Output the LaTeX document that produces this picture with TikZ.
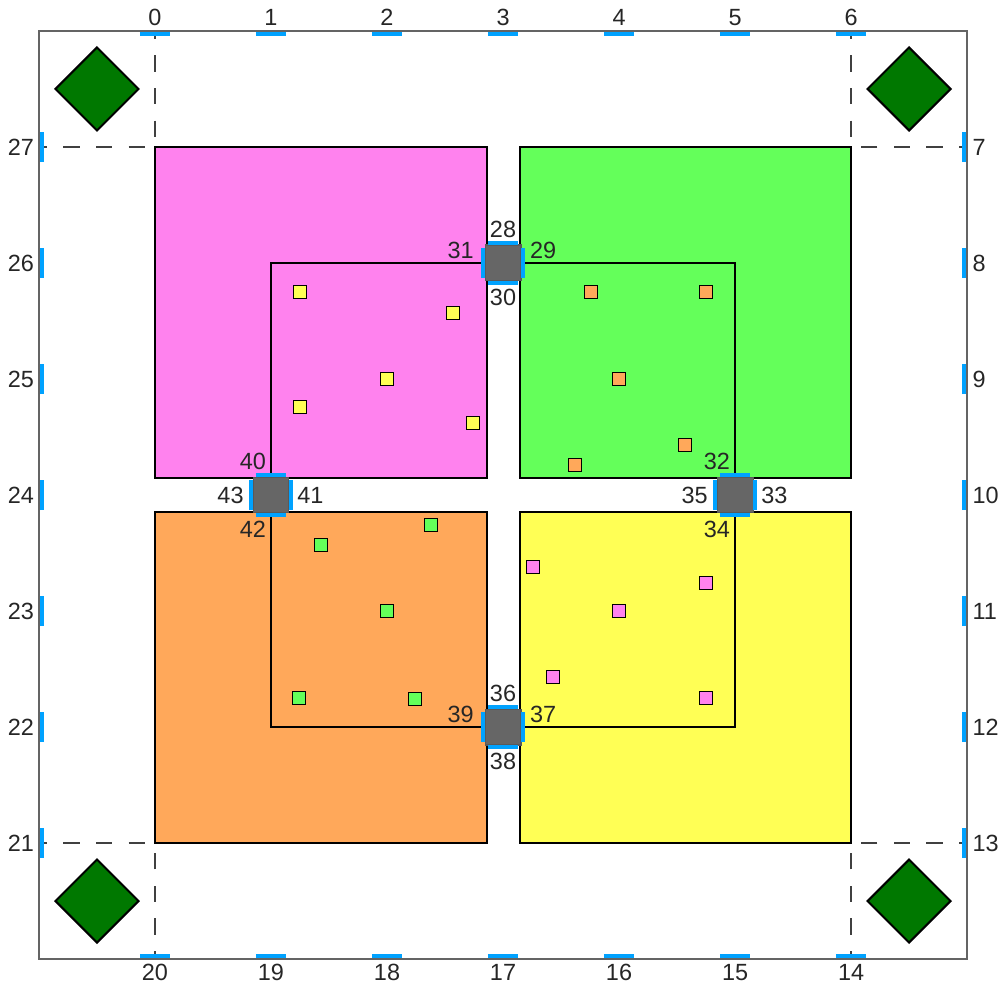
\documentclass[tikz,border=0pt]{standalone}
\usepackage{fontspec}
\setmainfont{Liberation Sans}
\definecolor{cpink}{RGB}{255,130,238}
\definecolor{cgreen}{RGB}{100,255,90}
\definecolor{corange}{RGB}{255,168,90}
\definecolor{cyellow}{RGB}{255,255,85}
\definecolor{dgreen}{RGB}{0,120,0}
\definecolor{tickblue}{RGB}{0,162,255}
\definecolor{framegray}{RGB}{100,100,100}
\definecolor{boxgray}{RGB}{102,102,102}
\tikzset{
  lbl/.style={inner sep=0pt, font=\fontsize{11.5}{13}\selectfont, text=black!85},
  bigsq/.style={draw=black, line width=1pt},
  smallsq/.style={draw=black, line width=0.6pt, minimum size=0.23cm, inner sep=0pt},
  bluebar/.style={draw=tickblue, line width=2.2pt},
  dashline/.style={draw=black!75, line width=1pt, dash pattern=on 8pt off 8pt, dash phase=4pt},
  diam/.style={fill=dgreen, draw=black, line width=1pt},
  junction/.style={fill=boxgray, draw=black!65, line width=0.5pt, minimum size=0.62cm, inner sep=0pt}
}
\begin{document}
\begin{tikzpicture}[x=2cm,y=2cm]
\useasboundingbox (-1.336,-1.241) rectangle (7.284,7.267);
% big squares
\path[bigsq, fill=cpink] (0,3.145) rectangle (2.858,6);
\path[bigsq, fill=cgreen] (3.145,3.145) rectangle (6,6);
\path[bigsq, fill=corange] (0,0) rectangle (2.858,2.85);
\path[bigsq, fill=cyellow] (3.145,0) rectangle (6,2.85);
% inner square
\draw[bigsq] (1,1) rectangle (5,5);
% small squares
\foreach \p [count=\i] in {(1.25,4.75),(2.57,4.57),(2,4),(1.25,3.76),(2.74,3.62)}
  \node[smallsq, fill=cyellow] (y\i) at \p {};
\foreach \p [count=\i] in {(3.76,4.75),(4.75,4.75),(4,4),(4.57,3.43),(3.62,3.26)}
  \node[smallsq, fill=corange] (o\i) at \p {};
\foreach \p [count=\i] in {(2.38,2.74),(1.43,2.57),(2,2),(1.24,1.25),(2.24,1.24)}
  \node[smallsq, fill=cgreen] (g\i) at \p {};
\foreach \p [count=\i] in {(3.26,2.38),(4.75,2.24),(4,2),(3.43,1.43),(4.75,1.25)}
  \node[smallsq, fill=cpink] (p\i) at \p {};
% junctions on vertical gap
\foreach \cy/\t/\r/\b/\l in {5/28/29/30/31, 1/36/37/38/39}{
  \node[junction] (j\t) at (3,\cy) {};
  \draw[bluebar] (3-0.13,\cy+0.172) -- (3+0.13,\cy+0.172);
  \draw[bluebar] (3-0.13,\cy-0.172) -- (3+0.13,\cy-0.172);
  \draw[bluebar] (3-0.172,\cy-0.13) -- (3-0.172,\cy+0.13);
  \draw[bluebar] (3+0.172,\cy-0.13) -- (3+0.172,\cy+0.13);
  \node[lbl, anchor=south] (l\t) at (3,\cy+0.215) {\t};
  \node[lbl, anchor=north] (l\b) at (3,\cy-0.22) {\b};
  \node[lbl, anchor=east] (l\l) at (3-0.25,\cy+0.11) {\l};
  \node[lbl, anchor=west] (l\r) at (3+0.23,\cy+0.11) {\r};
}
% junctions on horizontal gap
\foreach \cx/\t/\r/\b/\l in {5/32/33/34/35, 1/40/41/42/43}{
  \node[junction] (j\t) at (\cx,3) {};
  \draw[bluebar] (\cx-0.13,3+0.172) -- (\cx+0.13,3+0.172);
  \draw[bluebar] (\cx-0.13,3-0.172) -- (\cx+0.13,3-0.172);
  \draw[bluebar] (\cx-0.172,3-0.13) -- (\cx-0.172,3+0.13);
  \draw[bluebar] (\cx+0.172,3-0.13) -- (\cx+0.172,3+0.13);
  \node[lbl, anchor=south east] (l\t) at (\cx-0.04,3+0.215) {\t};
  \node[lbl, anchor=north east] (l\b) at (\cx-0.04,3-0.224) {\b};
  \node[lbl, anchor=east] (l\l) at (\cx-0.233,3) {\l};
  \node[lbl, anchor=west] (l\r) at (\cx+0.224,3) {\r};
}
% dashed corner lines
\draw[dashline] (-1,6) -- (0,6);
\draw[dashline] (0,7) -- (0,6);
\draw[dashline] (7,6) -- (6,6);
\draw[dashline] (6,7) -- (6,6);
\draw[dashline] (-1,0) -- (0,0);
\draw[dashline] (0,-1) -- (0,0);
\draw[dashline] (7,0) -- (6,0);
\draw[dashline] (6,-1) -- (6,0);
% diamonds
\foreach \cx/\cy [count=\i] in {-0.5/6.5, 6.5/6.5, -0.5/-0.5, 6.5/-0.5}
  \path[diam] (\cx-0.358,\cy) -- (\cx,\cy+0.358) -- (\cx+0.358,\cy) -- (\cx,\cy-0.358) -- cycle;
% frame
\draw[framegray, line width=1pt] (-1,-1) rectangle (7,7);
% frame ticks and labels
\foreach \i in {0,...,6}{
  \draw[bluebar] (\i-0.13,7-0.025) -- (\i+0.13,7-0.025);
  \node[lbl, anchor=south] (t\i) at (\i,7.04) {\i};
  \pgfmathtruncatemacro{\bl}{20-\i}
  \draw[bluebar] (\i-0.13,-1+0.025) -- (\i+0.13,-1+0.025);
  \node[lbl, anchor=north] (t\bl) at (\i,-1.04) {\bl};
}
\foreach \j in {0,...,6}{
  \pgfmathtruncatemacro{\rl}{13-\j}
  \pgfmathtruncatemacro{\ll}{21+\j}
  \draw[bluebar] (7-0.025,\j-0.13) -- (7-0.025,\j+0.13);
  \node[lbl, anchor=west] (t\rl) at (7.045,\j) {\rl};
  \draw[bluebar] (-1+0.025,\j-0.13) -- (-1+0.025,\j+0.13);
  \node[lbl, anchor=east] (t\ll) at (-1.04,\j) {\ll};
}
\end{tikzpicture}
\end{document}
